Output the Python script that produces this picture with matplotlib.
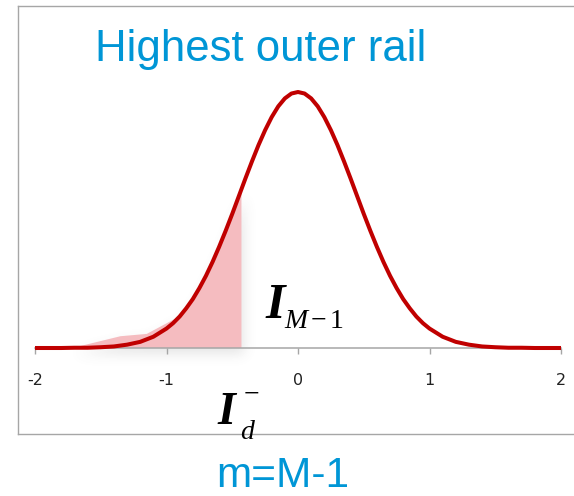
import numpy as np
import matplotlib
matplotlib.use("Agg")
import matplotlib.pyplot as plt
import matplotlib.font_manager as fm
from matplotlib.lines import Line2D
from matplotlib.path import Path

# ---- data -------------------------------------------------------------
x_pts = [-2.0, -1.9, -1.8, -1.7, -1.6, -1.5, -1.4, -1.3, -1.2, -1.1,
         -1.0, -0.95, -0.9, -0.85, -0.8, -0.75, -0.7, -0.65, -0.6, -0.55,
         -0.5, -0.45, -0.4, -0.35, -0.3, -0.25, -0.2, -0.15, -0.1, -0.05,
         0.0, 0.05, 0.1, 0.15, 0.2, 0.25, 0.3, 0.35, 0.4, 0.45,
         0.5, 0.55, 0.6, 0.65, 0.7, 0.75, 0.8, 0.85, 0.9, 0.95,
         1.0, 1.1, 1.2, 1.3, 1.4, 1.5, 1.6, 1.7, 1.8, 1.9, 2.0]
density = [0.000, 0.000, 0.000, 0.001, 0.001, 0.003, 0.006, 0.013, 0.024, 0.044,
           0.076, 0.097, 0.123, 0.155, 0.191, 0.234, 0.282, 0.336, 0.395, 0.458,
           0.524, 0.593, 0.662, 0.729, 0.793, 0.851, 0.902, 0.944, 0.975, 0.994,
           1.000, 0.994, 0.975, 0.944, 0.902, 0.851, 0.793, 0.729, 0.662, 0.593,
           0.524, 0.458, 0.395, 0.336, 0.282, 0.234, 0.191, 0.155, 0.123, 0.097,
           0.076, 0.044, 0.024, 0.013, 0.006, 0.003, 0.001, 0.001, 0.000, 0.000, 0.000]

# shaded lower tail up to the threshold
shade_x = [-2.0, -1.7, -1.35, -1.15, -0.95, -0.9, -0.85, -0.8, -0.75, -0.7,
           -0.65, -0.6, -0.55, -0.5, -0.45, -0.43, -0.43]
shade_y = [0.0, 0.002, 0.046, 0.055, 0.11, 0.123, 0.155, 0.191, 0.234, 0.282,
           0.336, 0.395, 0.458, 0.524, 0.593, 0.620, 0.0]

tick_vals = [-2, -1, 0, 1, 2]
tick_text = ["-2", "-1", "0", "1", "2"]

# ---- styling ----------------------------------------------------------
W, H = 574, 496
CURVE = "#C00000"
PINK = "#F5BCC0"
BLUE = "#0096D6"
FRAME = "#A6A6A6"

avail = {f.name for f in fm.fontManager.ttflist}
narrow = "Liberation Sans Narrow" if "Liberation Sans Narrow" in avail else "DejaVu Sans"
sans = "Liberation Sans" if "Liberation Sans" in avail else "DejaVu Sans"
serif = "Liberation Serif" if "Liberation Serif" in avail else "DejaVu Serif"


def fx(px):
    return px / W


def fy(py):
    return 1 - py / H


fig = plt.figure(figsize=(W / 100, H / 100), dpi=100)
fig.patch.set_facecolor("white")

# axes: x=-2 at 35px, x=2 at 561px; y=0 at 348px, y=1 at 92px
ax = fig.add_axes([fx(35), fy(348), (561 - 35) / W, (348 - 92) / H])
ax.set_xlim(-2, 2)
ax.set_ylim(0, 1)
ax.patch.set_visible(False)

ax.fill(shade_x, shade_y, color=PINK, lw=0, zorder=1)
ax.plot(x_pts, density, color=CURVE, lw=2.9, solid_capstyle="butt",
        clip_on=False, zorder=3)

for s in ["top", "left", "right"]:
    ax.spines[s].set_visible(False)
ax.spines["bottom"].set_color(FRAME)
ax.spines["bottom"].set_linewidth(1.1)
ax.spines["bottom"].set_zorder(2)
ax.set_yticks([])
ax.set_xticks(tick_vals)
ax.set_xticklabels(tick_text, fontfamily=narrow, fontsize=11.5, color="#222222")
ax.tick_params(axis="x", direction="out", length=4, width=1, color=FRAME, pad=14)

# soft drop shadow beneath the shaded tail
pts = ax.transData.transform(np.column_stack([shade_x, shade_y]))
pts = pts + np.array([3.0, -6.0])
gx, gy = np.meshgrid(np.arange(W) + 0.5, np.arange(H) + 0.5)
mask = Path(pts).contains_points(np.column_stack([gx.ravel(), gy.ravel()]))
mask = mask.reshape(H, W).astype(float)
kern = np.exp(-0.5 * (np.arange(-18, 19) / 6.0) ** 2)
kern /= kern.sum()
blur = np.apply_along_axis(lambda r: np.convolve(r, kern, mode="same"), 1, mask)
blur = np.apply_along_axis(lambda c: np.convolve(c, kern, mode="same"), 0, blur)
shadow = np.zeros((H, W, 4))
shadow[..., :3] = 0.45
shadow[..., 3] = 0.18 * blur
fig.figimage(shadow, xo=0, yo=0, origin="lower", zorder=-1)

# outer frame
for xs, ys in [([17.5, W], [5.5, 5.5]), ([18, 18], [5.5, 433.5]), ([18, W], [433.5, 433.5])]:
    fig.add_artist(Line2D([fx(v) for v in xs], [fy(v) for v in ys],
                          color=FRAME, lw=1.0))

# headings
fig.text(fx(95), fy(61), "Highest outer rail", fontfamily=sans, fontsize=31.5,
         color=BLUE, ha="left", va="baseline")
fig.text(fx(216), fy(487), "m=M-1", fontfamily=sans, fontsize=30.5,
         color=BLUE, ha="left", va="baseline")

# I_{M-1}
fig.text(fx(265), fy(318), "I", fontfamily=serif, fontstyle="italic",
         fontweight="bold", fontsize=36, ha="left", va="baseline")
fig.text(fx(284), fy(328), "M", fontfamily=serif, fontstyle="italic",
         fontsize=20, ha="left", va="baseline")
fig.text(fx(311), fy(328), "\u2212", fontfamily=serif, fontsize=20,
         ha="left", va="baseline")
fig.text(fx(330), fy(328), "1", fontfamily=serif, fontsize=20,
         ha="left", va="baseline")

# I_d^-
fig.text(fx(217), fy(424), "I", fontfamily=serif, fontstyle="italic",
         fontweight="bold", fontsize=33, ha="left", va="baseline")
fig.text(fx(240), fy(439), "d", fontfamily=serif, fontstyle="italic",
         fontsize=20, ha="left", va="baseline")
fig.text(fx(244), fy(402), "\u2212", fontfamily=serif, fontsize=20,
         ha="left", va="baseline")

fig.savefig("out.png", dpi=100)
